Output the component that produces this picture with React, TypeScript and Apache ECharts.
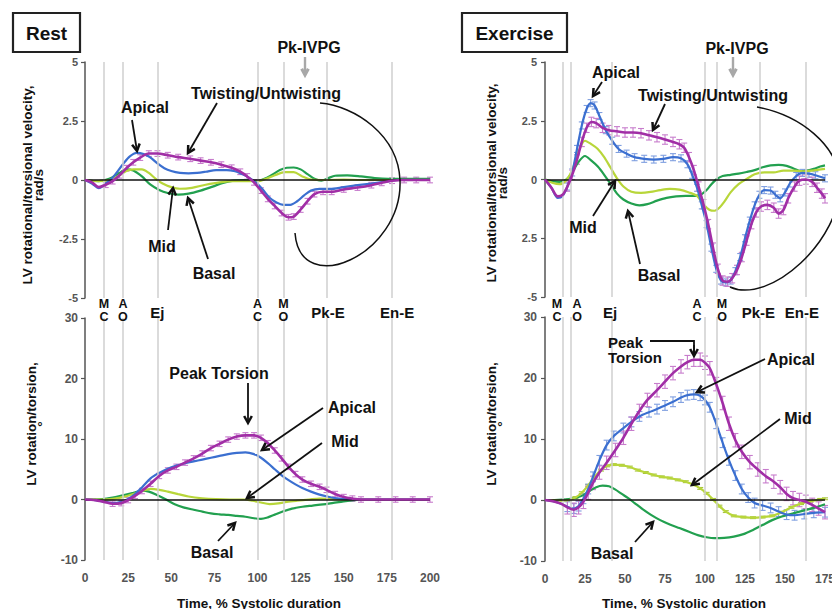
import React, { useEffect, useRef } from 'react';
import * as echarts from 'echarts';

type P = [number, number];

// ---------- DATA ----------
const EVENT_LABELS = ['M\nC', 'A\nO', 'Ej', 'A\nC', 'M\nO', 'Pk-E', 'En-E'];
const REST_EVENTS = [11, 22, 42, 100, 115, 140, 178];
const EX_EVENTS = [11.25, 16.25, 42, 100, 107.5, 134, 163];

const VEL_TICKS = [-5, -2.5, 0, 2.5, 5];
const REST_VEL_TICK_LABELS = ['-5', '-2.5', '0', '2.5', '5'];
const EX_VEL_TICK_LABELS = ['-5', '2.5', '0', '2.5', '5'];
const ROT_TICKS = [-10, 0, 10, 20, 30];
const ROT_TICK_LABELS = ['-10', '0', '10', '20', '30'];

// Rest: rotational / torsional velocity (rad/s)
const REST_VEL_APICAL: P[] = [[0,0],[4,-0.15],[8,-0.35],[12,-0.15],[16,0.1],[22,0.67],[26,1.0],[30,1.15],[34,1.1],[38,0.95],[42,0.7],[46,0.5],[50,0.38],[55,0.3],[60,0.28],[65,0.3],[70,0.35],[76,0.42],[82,0.42],[87,0.37],[91,0.25],[95,0.1],[99,-0.1],[103,-0.4],[107,-0.75],[111,-0.95],[115,-1.05],[119,-1.05],[123,-0.9],[127,-0.65],[131,-0.45],[136,-0.38],[142,-0.38],[150,-0.3],[158,-0.22],[166,-0.15],[174,-0.07],[182,0],[190,0],[200,0]];
const REST_VEL_TWIST: P[] = [[0,0],[4,-0.1],[8,-0.3],[12,-0.2],[16,-0.05],[20,0.2],[24,0.5],[28,0.75],[32,0.95],[37,1.12],[42,1.12],[48,1.05],[54,0.97],[61,0.9],[67,0.82],[73,0.75],[79,0.65],[85,0.52],[90,0.35],[94,0.15],[98,-0.1],[102,-0.45],[106,-0.8],[110,-1.1],[114,-1.4],[118,-1.58],[121,-1.55],[125,-1.25],[129,-0.9],[133,-0.6],[138,-0.5],[143,-0.5],[150,-0.4],[158,-0.32],[166,-0.22],[172,-0.12],[178,-0.03],[185,0],[192,0],[200,0]];
const REST_VEL_MID: P[] = [[0,0],[8,-0.05],[14,0],[19,0.15],[24,0.38],[28,0.45],[33,0.45],[37,0.3],[41,0.05],[45,-0.15],[50,-0.3],[55,-0.37],[62,-0.33],[70,-0.2],[78,-0.1],[86,-0.05],[94,-0.05],[100,-0.05],[105,0.05],[110,0.2],[116,0.33],[121,0.33],[126,0.15],[131,0.02],[140,0],[150,0.02],[160,0],[200,0]];
const REST_VEL_BASAL: P[] = [[0,0],[8,-0.05],[14,0.05],[19,0.25],[24,0.45],[28,0.4],[33,0.15],[38,-0.2],[43,-0.42],[48,-0.55],[54,-0.62],[60,-0.58],[67,-0.45],[74,-0.28],[80,-0.12],[86,-0.03],[92,0],[99,-0.05],[104,0.05],[108,0.2],[113,0.42],[117,0.52],[121,0.53],[125,0.45],[129,0.25],[133,0.05],[137,-0.03],[141,0.08],[145,0.18],[152,0.2],[160,0.15],[168,0.08],[176,0.05],[188,0.05],[200,0.05]];

// Exercise: rotational / torsional velocity (rad/s)
const EX_VEL_APICAL: P[] = [[0,0],[4,-0.35],[8,-0.78],[11,-0.7],[14,-0.3],[17,0.3],[20,1.3],[23,2.3],[26,3.0],[28.5,3.25],[31,3.15],[34,2.7],[38,2.1],[42,1.65],[46,1.3],[51,1.1],[56,0.95],[62,0.88],[68,0.85],[74,0.88],[80,0.95],[85,0.9],[89,0.65],[92,0.2],[95,-0.35],[98,-1.1],[101,-1.9],[104,-2.9],[107,-3.8],[110,-4.3],[113,-4.38],[116,-4.3],[119,-3.9],[122,-3.3],[125,-2.5],[128,-1.75],[131,-1.1],[134,-0.65],[137,-0.45],[141,-0.47],[144,-0.65],[147,-0.8],[150,-0.55],[153,-0.17],[157,0.15],[161,0.28],[165,0.25],[169,0.18],[175,0.05]];
const EX_VEL_TWIST: P[] = [[0,0],[4,-0.35],[8,-0.72],[11,-0.65],[14,-0.3],[17,0.2],[20,0.85],[23,1.6],[26,2.2],[29,2.45],[32,2.4],[36,2.2],[40,2.1],[45,2.05],[50,2.0],[55,2.0],[60,1.97],[65,1.88],[70,1.8],[75,1.7],[80,1.6],[84,1.5],[87,1.35],[90,0.95],[93,0.4],[96,-0.3],[99,-1.05],[102,-1.9],[105,-2.9],[108,-3.8],[111,-4.3],[114,-4.35],[117,-4.2],[120,-3.85],[123,-3.3],[126,-2.6],[129,-1.9],[132,-1.4],[135,-1.15],[139,-1.08],[143,-1.2],[146,-1.45],[149,-1.3],[152,-0.8],[156,-0.3],[159,-0.05],[163,0],[167,-0.1],[170,-0.35],[173,-0.6],[175,-0.8]];
const EX_VEL_MID: P[] = [[0,0],[5,-0.15],[9,-0.2],[13,-0.05],[17,0.4],[21,1.2],[25,1.65],[29,1.5],[33,1.3],[37,0.95],[41,0.5],[45,0.05],[49,-0.3],[54,-0.52],[60,-0.57],[66,-0.53],[72,-0.45],[78,-0.4],[84,-0.43],[90,-0.55],[95,-0.7],[99,-1.05],[103,-1.3],[106,-1.33],[109,-1.2],[112,-0.95],[116,-0.55],[121,-0.2],[126,0.02],[131,0.22],[137,0.3],[143,0.3],[149,0.38],[155,0.38],[161,0.35],[167,0.38],[175,0.45]];
const EX_VEL_BASAL: P[] = [[0,0],[5,-0.08],[9,-0.1],[13,-0.02],[17,0.3],[21,0.75],[25,1.0],[29,0.8],[33,0.55],[37,0.2],[41,-0.2],[45,-0.6],[49,-0.85],[54,-1.02],[59,-1.1],[64,-1.05],[70,-0.9],[76,-0.78],[82,-0.72],[88,-0.7],[94,-0.7],[98,-0.62],[101,-0.45],[104,-0.2],[107,0.0],[111,0.15],[116,0.2],[121,0.25],[126,0.32],[131,0.4],[136,0.52],[141,0.6],[146,0.62],[151,0.58],[156,0.45],[160,0.35],[164,0.38],[168,0.45],[172,0.55],[175,0.6]];

// Rest: rotation / torsion (deg)
const REST_ROT_TORSION: P[] = [[0,0],[6,-0.1],[11,-0.4],[16,-0.7],[21,-0.6],[25,-0.1],[29,0.6],[33,1.4],[38,2.6],[43,3.9],[48,4.8],[53,5.4],[58,6.1],[63,6.8],[68,7.6],[73,8.5],[78,9.2],[83,9.9],[88,10.4],[93,10.6],[98,10.6],[102,10.2],[106,9.3],[110,8.1],[114,6.8],[118,5.4],[122,4.2],[126,3.3],[131,2.6],[136,2.1],[140,1.6],[145,0.9],[150,0.4],[155,0.15],[160,0],[170,0],[180,0],[190,0],[200,0]];
const REST_ROT_APICAL: P[] = [[0,0],[6,-0.1],[11,-0.35],[16,-0.6],[21,-0.4],[25,0.1],[29,0.9],[33,2.0],[38,3.5],[43,4.4],[48,5.1],[53,5.6],[58,6.0],[63,6.3],[68,6.6],[73,6.9],[78,7.2],[83,7.5],[88,7.7],[93,7.8],[98,7.5],[102,6.9],[106,6.0],[110,5.0],[114,4.0],[118,3.2],[122,2.5],[126,1.9],[131,1.3],[136,0.8],[141,0.45],[146,0.2],[152,0.05],[160,0],[200,0]];
const REST_ROT_MID: P[] = [[0,0],[10,0],[16,0.1],[22,0.4],[28,0.9],[33,1.4],[38,1.75],[43,1.6],[48,1.3],[54,0.9],[60,0.5],[68,0.2],[76,0.05],[84,0],[92,0],[97,-0.2],[102,-0.5],[107,-0.75],[112,-0.65],[117,-0.4],[123,-0.2],[130,0],[136,0.15],[142,0.1],[150,0],[200,0]];
const REST_ROT_BASAL: P[] = [[0,0],[10,0.05],[16,0.3],[22,0.7],[28,1.1],[33,1.45],[37,1.3],[42,0.7],[47,0.0],[52,-0.8],[57,-1.3],[63,-1.7],[68,-2.0],[73,-2.3],[78,-2.45],[83,-2.55],[88,-2.7],[93,-2.85],[98,-3.1],[102,-3.2],[106,-2.95],[110,-2.5],[115,-1.95],[120,-1.5],[126,-1.2],[132,-1.0],[138,-0.8],[144,-0.55],[150,-0.3],[156,-0.1],[162,0],[200,0]];

// Exercise: rotation / torsion (deg)
const EX_ROT_TORSION: P[] = [[0,0],[5,-0.2],[10,-0.6],[14,-1.2],[18,-1.6],[21,-1.2],[24,-0.3],[27,1.2],[30,2.8],[34,4.5],[38.5,6.1],[44,8.2],[49,10.2],[54,12.5],[59,14.6],[64,16.4],[70,18.0],[75,19.4],[80,20.8],[85,21.9],[89,22.6],[93,23.0],[97,23.0],[100,22.5],[103,21.6],[107,19.0],[111,15.9],[115,12.5],[119,9.8],[123,7.9],[128,6.2],[133,5.0],[138,3.9],[143,3.0],[147,2.1],[151,1.0],[155,0.3],[159,0],[163,-0.3],[167,-0.8],[171,-1.4],[175,-2.0]];
const EX_ROT_APICAL: P[] = [[0,0],[5,-0.2],[10,-0.6],[14,-1.1],[18,-1.4],[21,-1.0],[24,0.2],[27,1.8],[30,3.8],[34,6.5],[38.5,9.0],[43,10.5],[49,11.8],[54,12.8],[59,13.7],[65,14.4],[70,14.9],[75,15.5],[80,16.1],[85,16.8],[89,17.2],[93,17.3],[97,17.1],[100,16.4],[103,15.2],[107,12.5],[111,9.4],[115,6.5],[119,4.0],[123,1.8],[127,0.4],[131,-0.5],[136,-0.9],[141,-1.3],[146,-1.9],[151,-2.4],[156,-2.5],[162,-2.3],[168,-2.1],[175,-2.0]];
const EX_ROT_MID: P[] = [[0,0],[6,-0.05],[11,-0.1],[15,0],[19,0.4],[23,1.2],[27,2.4],[31,3.8],[35,4.9],[39,5.6],[43,5.8],[48,5.7],[53,5.4],[58,4.9],[63,4.5],[68,4.1],[73,3.8],[78,3.6],[83,3.3],[88,3.0],[93,2.5],[97,1.9],[101,1.1],[105,0.1],[109,-1.0],[113,-1.9],[118,-2.6],[124,-2.8],[130,-2.9],[136,-2.8],[142,-2.6],[148,-2.0],[154,-1.2],[160,-0.6],[166,-0.2],[172,0.1],[175,0.2]];
const EX_ROT_BASAL: P[] = [[0,0],[6,0],[11,0.05],[16,0.2],[20,0.4],[24,0.8],[28,1.5],[32,2.1],[36,2.35],[40,2.25],[44,1.7],[48,1.0],[52,0.3],[56,-0.5],[61,-1.5],[66,-2.4],[72,-3.3],[78,-4.0],[84,-4.6],[90,-5.2],[96,-5.8],[101,-6.1],[106,-6.25],[112,-6.2],[118,-6.0],[124,-5.6],[130,-4.9],[136,-4.1],[142,-3.3],[148,-2.7],[155,-2.2],[162,-1.7],[168,-1.3],[175,-0.7]];

// half-length of error bars per panel (rest vel, rest rot, ex vel, ex rot)
const ERR_MAIN = [0.12, 0.45, 0.2, 1.1];
const ERR_APICAL = [0, 0, 0.15, 0.8];
const ERR_MID = [0, 0, 0, 0.15];

// ---------- STYLE ----------
const FONT = '"Liberation Sans", Arial, Helvetica, sans-serif';
const C_TWIST = '#a12ea6';
const C_APICAL = '#3b6fd0';
const C_MID = '#b8d63a';
const C_BASAL = '#22a04f';
const C_TWIST_ERR = '#c77ccc';
const C_APICAL_ERR = '#7f9fe0';
const C_MID_ERR = '#a6c43a';

const GRIDS = [
  { left: 85, top: 62, width: 345, height: 236 },
  { left: 85, top: 318, width: 345, height: 242 },
  { left: 545, top: 62, width: 280, height: 235 },
  { left: 545, top: 317, width: 280, height: 244 },
];
const XMAX = [200, 200, 175, 175];
const LEFT_LABEL_DX = [0, 0, 0, 0, 0, 1.5, 5];
const RIGHT_LABEL_DX = [-6, 6, -2, -8, 5, -1, -4];
const ERR_START_X = 12;

function xToPx(g: number, x: number) {
  return GRIDS[g].left + (x / XMAX[g]) * GRIDS[g].width;
}

function txt(text: string, x: number, y: number, o: any = {}) {
  const style: any = {
    text, fontSize: o.size || 16, fontWeight: 'bold', fontFamily: FONT,
    fill: o.color || '#111',
    textAlign: o.align || 'center', align: o.align || 'center',
    textVerticalAlign: 'middle', verticalAlign: 'middle',
  };
  if (o.lh) style.lineHeight = o.lh;
  return { type: 'text', x, y, rotation: o.rot || 0, z: 60, style };
}

function arrow(x1: number, y1: number, x2: number, y2: number, color = '#111', lw = 1.8, head = 8) {
  const a = Math.atan2(y2 - y1, x2 - x1);
  const h1 = [x2 - head * Math.cos(a - 0.5), y2 - head * Math.sin(a - 0.5)];
  const h2 = [x2 - head * Math.cos(a + 0.5), y2 - head * Math.sin(a + 0.5)];
  return [
    { type: 'line', z: 60, shape: { x1, y1, x2, y2 }, style: { stroke: color, lineWidth: lw } },
    { type: 'polyline', z: 60, shape: { points: [h1, [x2, y2], h2] }, style: { stroke: color, lineWidth: lw + 0.7, fill: null } },
  ];
}

function bez(x1: number, y1: number, cpx1: number, cpy1: number, cpx2: number, cpy2: number, x2: number, y2: number) {
  return { type: 'bezierCurve', z: 60, shape: { x1, y1, cpx1, cpy1, cpx2, cpy2, x2, y2 }, style: { stroke: '#111', lineWidth: 1.5, fill: null } };
}

function lineSeries(g: number, data: P[], color: string, width = 2.2, z = 3) {
  return {
    type: 'line', xAxisIndex: g, yAxisIndex: g, data, smooth: 0.3, symbol: 'none',
    lineStyle: { color, width }, z, silent: true,
  };
}

function errSeries(g: number, data: P[], err: number, color: string) {
  return {
    type: 'custom', xAxisIndex: g, yAxisIndex: g, z: 2, silent: true,
    data: data.filter((p) => p[0] >= ERR_START_X).map((p) => [p[0], p[1], err]),
    renderItem: (_params: any, api: any) => {
      const x = api.value(0), y = api.value(1), e = api.value(2);
      const a = api.coord([x, y + e]);
      const b = api.coord([x, y - e]);
      const w = 3;
      const st = { stroke: color, lineWidth: 1.1 };
      return {
        type: 'group',
        children: [
          { type: 'line', shape: { x1: a[0], y1: a[1], x2: b[0], y2: b[1] }, style: st },
          { type: 'line', shape: { x1: a[0] - w, y1: a[1], x2: a[0] + w, y2: a[1] }, style: st },
          { type: 'line', shape: { x1: b[0] - w, y1: b[1], x2: b[0] + w, y2: b[1] }, style: st },
        ],
      };
    },
  };
}

function eventSeries(g: number, events: number[]) {
  return {
    type: 'scatter', xAxisIndex: g, yAxisIndex: g, data: events.map((x) => [x, 0]),
    symbolSize: 0, silent: true, z: 1,
    markLine: {
      silent: true, symbol: ['none', 'none'], label: { show: false }, animation: false,
      data: [
        ...events.map((x) => ({ xAxis: x, lineStyle: { color: '#cfcfcf', width: 1.5, type: 'solid' } })),
        { yAxis: 0, lineStyle: { color: '#111', width: 1.5, type: 'solid' } },
      ],
    },
  };
}

function buildOption() {
  const panels = [
    { basal: REST_VEL_BASAL, mid: REST_VEL_MID, apical: REST_VEL_APICAL, main: REST_VEL_TWIST, events: REST_EVENTS },
    { basal: REST_ROT_BASAL, mid: REST_ROT_MID, apical: REST_ROT_APICAL, main: REST_ROT_TORSION, events: REST_EVENTS },
    { basal: EX_VEL_BASAL, mid: EX_VEL_MID, apical: EX_VEL_APICAL, main: EX_VEL_TWIST, events: EX_EVENTS },
    { basal: EX_ROT_BASAL, mid: EX_ROT_MID, apical: EX_ROT_APICAL, main: EX_ROT_TORSION, events: EX_EVENTS },
  ];

  const series: any[] = [];
  panels.forEach((p, g) => {
    series.push(eventSeries(g, p.events));
    if (ERR_MID[g] > 0) series.push(errSeries(g, p.mid, ERR_MID[g], C_MID_ERR));
    if (ERR_APICAL[g] > 0) series.push(errSeries(g, p.apical, ERR_APICAL[g], C_APICAL_ERR));
    if (ERR_MAIN[g] > 0) series.push(errSeries(g, p.main, ERR_MAIN[g], C_TWIST_ERR));
    series.push(lineSeries(g, p.basal, C_BASAL, 2.2, 3));
    series.push(lineSeries(g, p.mid, C_MID, 2.2, 3));
    series.push(lineSeries(g, p.apical, C_APICAL, 2.2, 4));
    series.push(lineSeries(g, p.main, C_TWIST, 2.6, 5));
  });

  const xAxis = GRIDS.map((_, g) => {
    const bottom = g === 1 || g === 3;
    return {
      gridIndex: g, type: 'value', min: 0, max: XMAX[g], interval: 25, show: bottom,
      axisLine: { show: false }, axisTick: { show: false }, splitLine: { show: false },
      axisLabel: { show: bottom, fontSize: 12, fontWeight: 'bold', color: '#555', fontFamily: FONT, margin: 12 },
    };
  });

  const yAxis = GRIDS.map((_, g) => {
    const vel = g === 0 || g === 2;
    const ticks = vel ? VEL_TICKS : ROT_TICKS;
    const labels = vel ? (g === 0 ? REST_VEL_TICK_LABELS : EX_VEL_TICK_LABELS) : ROT_TICK_LABELS;
    return {
      gridIndex: g, type: 'value',
      min: vel ? -5 : -10, max: vel ? 5 : 30, interval: vel ? 2.5 : 10,
      axisLine: { show: true, onZero: false, lineStyle: { color: '#555', width: 1.5 } },
      axisTick: { show: true, length: 4, lineStyle: { color: '#555', width: 1.2 } },
      splitLine: { show: false },
      axisLabel: {
        fontSize: vel ? 11 : 12, fontWeight: 'bold', color: '#555', fontFamily: FONT, margin: g < 2 ? 7 : 8,
        formatter: (v: number) => {
          const i = ticks.indexOf(v);
          return i >= 0 ? labels[i] : String(v);
        },
      },
    };
  });

  const graphics: any[] = [];
  // Titles
  graphics.push({ type: 'rect', z: 59, shape: { x: 13, y: 13, width: 67, height: 39 }, style: { stroke: '#222', lineWidth: 2.2, fill: '#fff' } });
  graphics.push(txt('Rest', 46.5, 33, { size: 19 }));
  graphics.push({ type: 'rect', z: 59, shape: { x: 462, y: 13, width: 105, height: 39 }, style: { stroke: '#222', lineWidth: 2.2, fill: '#fff' } });
  graphics.push(txt('Exercise', 514.5, 33, { size: 19 }));

  // Y axis names
  const R = Math.PI / 2;
  graphics.push(txt('LV rotational/torsional velocity,\nrad/s', 33, 185, { size: 13.5, rot: R, lh: 11 }));
  graphics.push(txt('LV rotation/torsion,\n°', 37, 424, { size: 13.5, rot: R, lh: 11 }));
  graphics.push(txt('LV rotational/torsional velocity,\nrad/s', 497, 183, { size: 13.5, rot: R, lh: 11 }));
  graphics.push(txt('LV rotation/torsion,\n°', 497, 424, { size: 13.5, rot: R, lh: 11 }));

  // X axis names
  graphics.push(txt('Time, % Systolic duration', 259, 603, { size: 13.5 }));
  graphics.push(txt('Time, % Systolic duration', 684, 603, { size: 13.5 }));

  // Event labels between panels
  const addEventLabels = (g: number, events: number[], dx: number[]) => {
    events.forEach((x, i) => {
      const px = xToPx(g, x) + dx[i];
      const lab = EVENT_LABELS[i];
      if (lab.includes('\n')) {
        graphics.push(txt(lab, px, 310, { size: 12.5, lh: 13 }));
      } else {
        graphics.push(txt(lab, px, 312.5, { size: 15 }));
      }
    });
  };
  addEventLabels(0, REST_EVENTS, LEFT_LABEL_DX);
  addEventLabels(2, EX_EVENTS, RIGHT_LABEL_DX);

  // Rest velocity annotations
  graphics.push(txt('Pk-IVPG', 309, 47));
  graphics.push(...arrow(305, 57, 305, 75, '#a8a8a8', 2.4, 7));
  graphics.push(txt('Apical', 145, 107));
  graphics.push(...arrow(132, 120, 137, 151));
  graphics.push(txt('Twisting/Untwisting', 266, 93));
  graphics.push(...arrow(217, 103, 188, 153));
  graphics.push(txt('Mid', 162, 246));
  graphics.push(...arrow(168, 230, 173, 188));
  graphics.push(txt('Basal', 214, 273));
  graphics.push(...arrow(208, 259, 188, 198));
  graphics.push(bez(320, 103, 355, 106, 398, 135, 400, 180));
  graphics.push(bez(400, 180, 403, 255, 300, 300, 295, 233));

  // Rest rotation annotations
  graphics.push(txt('Peak Torsion', 219, 373));
  graphics.push(...arrow(248, 383, 248, 423));
  graphics.push(txt('Apical', 352, 407));
  graphics.push(...arrow(323, 408, 262, 450));
  graphics.push(txt('Mid', 345, 441));
  graphics.push(...arrow(322, 443, 247, 498));
  graphics.push(txt('Basal', 212, 552));
  graphics.push(...arrow(218, 541, 235, 523));

  // Exercise velocity annotations
  graphics.push(txt('Pk-IVPG', 737, 48));
  graphics.push(...arrow(733, 57, 733, 75, '#a8a8a8', 2.4, 7));
  graphics.push(txt('Apical', 616, 72));
  graphics.push(...arrow(602, 82, 593, 96));
  graphics.push(txt('Twisting/Untwisting', 713, 95));
  graphics.push(...arrow(665, 104, 653, 130));
  graphics.push(txt('Mid', 583, 227));
  graphics.push(...arrow(593, 216, 615, 181));
  graphics.push(txt('Basal', 659, 275));
  graphics.push(...arrow(640, 264, 628, 211));
  graphics.push(bez(757, 107, 800, 115, 838, 145, 840, 182));
  graphics.push(bez(840, 182, 842, 240, 770, 305, 730, 287));

  // Exercise rotation annotations
  graphics.push(txt('Peak\nTorsion', 608, 350, { align: 'left', lh: 15.5, size: 15 }));
  graphics.push({ type: 'polyline', z: 60, shape: { points: [[650, 341], [694, 341], [694, 354]] }, style: { stroke: '#111', lineWidth: 1.8, fill: null } });
  graphics.push(...arrow(694, 345, 694, 356));
  graphics.push(txt('Apical', 791, 359));
  graphics.push(...arrow(765, 359, 697, 392));
  graphics.push(txt('Mid', 798, 418));
  graphics.push(...arrow(780, 419, 692, 485));
  graphics.push(txt('Basal', 612, 553));
  graphics.push(...arrow(635, 542, 653, 522));

  return {
    animation: false,
    backgroundColor: '#fff',
    textStyle: { fontFamily: FONT },
    grid: GRIDS.map((gr) => ({ ...gr, containLabel: false, outerBoundsMode: 'none' })),
    xAxis,
    yAxis,
    series,
    graphic: { elements: graphics },
  };
}

export default function App() {
  const ref = useRef<HTMLDivElement>(null);
  useEffect(() => {
    if (!ref.current) return;
    const chart = echarts.init(ref.current, undefined, { renderer: 'svg', width: 832, height: 609 });
    chart.setOption(buildOption() as any);
    return () => chart.dispose();
  }, []);
  return (
    <div
      ref={ref}
      style={{ position: 'fixed', left: 0, top: 0, width: 832, height: 609, background: '#fff' }}
    />
  );
}
